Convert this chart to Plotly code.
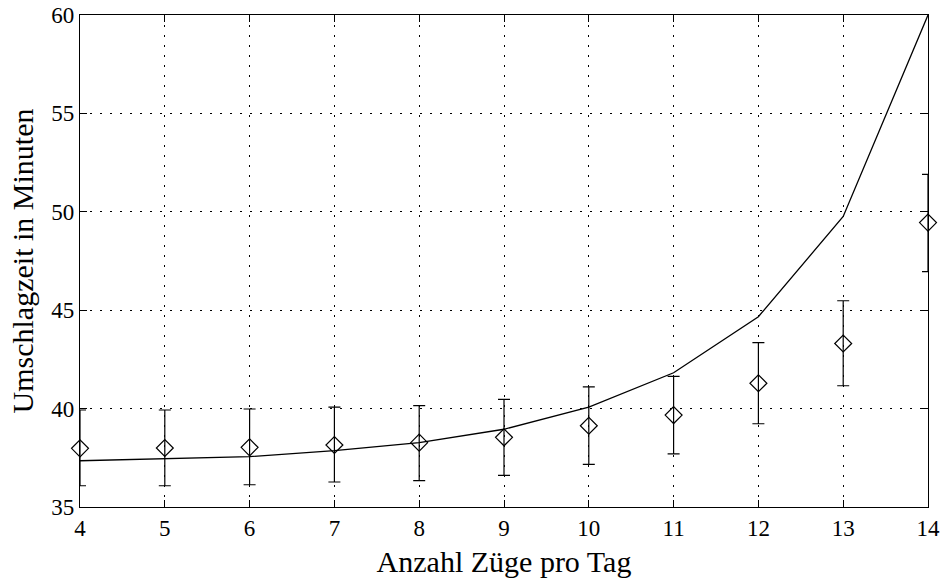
import plotly.graph_objects as go

x_vals = [4, 5, 6, 7, 8, 9, 10, 11, 12, 13, 14]
model_line = [37.35, 37.44, 37.56, 37.86, 38.27, 38.95, 40.07, 41.82, 44.67, 49.76, 60.0]
sim_mean = [37.98, 38.0, 38.03, 38.15, 38.27, 38.54, 39.13, 39.67, 41.29, 43.31, 49.45]
err_up = [1.95, 1.93, 1.95, 1.93, 1.88, 1.93, 1.97, 1.97, 2.06, 2.17, 2.45]
err_down = [1.90, 1.92, 1.90, 1.88, 1.93, 1.93, 1.96, 1.97, 2.06, 2.15, 2.49]

x_ticks = list(range(4, 15))
y_ticks = [35, 40, 45, 50, 55, 60]

font_family = "Liberation Serif, DejaVu Serif, serif"

fig = go.Figure()
fig.add_trace(go.Scatter(
    x=x_vals, y=model_line, mode="lines",
    line=dict(color="black", width=1.3), showlegend=False,
))
fig.add_trace(go.Scatter(
    x=x_vals, y=sim_mean, mode="markers",
    marker=dict(symbol="diamond-open", size=13, color="black", line=dict(width=1.2, color="black")),
    error_y=dict(type="data", symmetric=False, array=err_up, arrayminus=err_down,
                 color="black", thickness=1.2, width=6),
    showlegend=False, cliponaxis=False,
))

axis_common = dict(
    showline=True, linecolor="black", linewidth=1.3, mirror="ticks",
    ticks="inside", ticklen=7, tickcolor="black", tickwidth=1,
    showgrid=True, gridcolor="black", gridwidth=1, griddash="2px,8px",
    zeroline=False, automargin=False, ticklabeloverflow="allow",
    tickfont=dict(family=font_family, size=23, color="black"),
    title_font=dict(family=font_family, size=30, color="black"),
)

fig.update_xaxes(range=[4, 14], tickvals=x_ticks, title_text="Anzahl Züge pro Tag",
                 title_standoff=13, **axis_common)
fig.update_yaxes(range=[35, 60], tickvals=y_ticks, title_text="Umschlagzeit in Minuten",
                 title_standoff=8, **axis_common)

fig.update_layout(
    width=944, height=578,
    margin=dict(l=80, r=16, t=15, b=71),
    plot_bgcolor="white", paper_bgcolor="white",
    font=dict(family=font_family, color="black"),
    hovermode=False,
)

# remove the default 8px page margin so the figure fills the window exactly
fig.write_html("out.html", config={"displayModeBar": False},
               post_script="document.body.style.margin='0';")
